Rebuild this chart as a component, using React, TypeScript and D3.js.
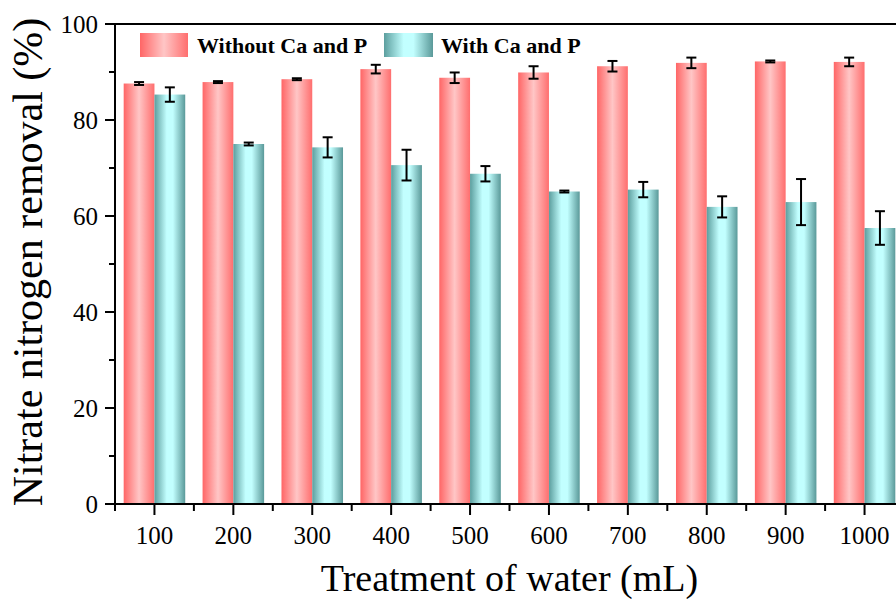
import React from 'react';
import * as d3 from 'd3';

const volumes = ['100', '200', '300', '400', '500', '600', '700', '800', '900', '1000'];
const withoutCaP = [87.6, 87.9, 88.5, 90.6, 88.8, 89.9, 91.2, 91.9, 92.2, 92.1];
const withoutCaPErr = [0.3, 0.2, 0.2, 0.9, 1.1, 1.3, 1.1, 1.1, 0.2, 0.9];
const withCaP = [85.3, 75.0, 74.3, 70.6, 68.8, 65.1, 65.5, 61.9, 62.9, 57.5];
const withCaPErr = [1.5, 0.3, 2.1, 3.2, 1.6, 0.2, 1.6, 2.2, 4.8, 3.5];
const yTicks = [0, 20, 40, 60, 80, 100];
const yMinorTicks = [10, 30, 50, 70, 90];

const W = 896;
const H = 599;
const left = 115;
const right = 904;
const top = 24;
const bottom = 504;
const font = '"Liberation Serif", "Times New Roman", serif';

export default function App() {
  const x = d3.scaleBand<string>().domain(volumes).range([left, right]).padding(0);
  const y = d3.scaleLinear().domain([0, 100]).range([bottom, top]);
  const step = x.step();
  const barW = step * 0.39;
  const center = (v: string) => (x(v) as number) + step / 2;

  const errBar = (cx: number, v: number, e: number, key: string) => (
    <g key={key} stroke="#000" strokeWidth={2}>
      <line x1={cx} x2={cx} y1={y(v + e)} y2={y(v - e)} />
      <line x1={cx - 5} x2={cx + 5} y1={y(v + e)} y2={y(v + e)} />
      <line x1={cx - 5} x2={cx + 5} y1={y(v - e)} y2={y(v - e)} />
    </g>
  );

  return (
    <div style={{ position: 'absolute', left: 0, top: 0 }}>
      <svg width={W} height={H} style={{ display: 'block', background: '#fff' }}>
        <defs>
          <linearGradient id="redGrad" x1="0" x2="1" y1="0" y2="0">
            <stop offset="0%" stopColor="#ff6666" />
            <stop offset="50%" stopColor="#ffc6c6" />
            <stop offset="100%" stopColor="#ff6e6e" />
          </linearGradient>
          <linearGradient id="tealGrad" x1="0" x2="1" y1="0" y2="0">
            <stop offset="0%" stopColor="#5c9e9e" />
            <stop offset="40%" stopColor="#c2ffff" />
            <stop offset="60%" stopColor="#c2ffff" />
            <stop offset="100%" stopColor="#5a9999" />
          </linearGradient>
        </defs>

        {volumes.map((v, i) => (
          <g key={v}>
            <rect x={center(v) - barW} width={barW} y={y(withoutCaP[i])} height={bottom - y(withoutCaP[i])} fill="url(#redGrad)" />
            <rect x={center(v)} width={barW} y={y(withCaP[i])} height={bottom - y(withCaP[i])} fill="url(#tealGrad)" />
          </g>
        ))}
        {volumes.map((v, i) => errBar(center(v) - barW / 2, withoutCaP[i], withoutCaPErr[i], 'r' + v))}
        {volumes.map((v, i) => errBar(center(v) + barW / 2, withCaP[i], withCaPErr[i], 't' + v))}

        {/* frame */}
        <rect x={left} y={top} width={right - left} height={bottom - top} fill="none" stroke="#000" strokeWidth={2} />

        {/* y axis */}
        {yTicks.map(t => (
          <g key={'y' + t}>
            <line x1={left - 10} x2={left} y1={y(t)} y2={y(t)} stroke="#000" strokeWidth={2} />
            <text x={left - 17} y={y(t)} dy="0.35em" textAnchor="end" fontFamily={font} fontSize={25}>{t}</text>
          </g>
        ))}
        {yMinorTicks.map(t => (
          <line key={'ym' + t} x1={left - 6} x2={left} y1={y(t)} y2={y(t)} stroke="#000" strokeWidth={2} />
        ))}

        {/* x axis */}
        {volumes.map(v => (
          <g key={'x' + v}>
            <line x1={center(v)} x2={center(v)} y1={bottom} y2={bottom + 11} stroke="#000" strokeWidth={2} />
            <line x1={(x(v) as number)} x2={(x(v) as number)} y1={bottom} y2={bottom + 7} stroke="#000" strokeWidth={2} />
            <text x={center(v)} y={bottom + 40} textAnchor="middle" fontFamily={font} fontSize={25}>{v}</text>
          </g>
        ))}

        <text x={(left + right) / 2} y={H - 8} textAnchor="middle" fontFamily={font} fontSize={38}>Treatment of water (mL)</text>
        <text transform={`translate(42,262) rotate(-90)`} textAnchor="middle" fontFamily={font} fontSize={42}>Nitrate nitrogen removal (%)</text>

        {/* legend */}
        <rect x={140} y={33} width={48} height={24} fill="url(#redGrad)" />
        <text x={197} y={53} fontFamily={font} fontWeight="bold" fontSize={22}>Without Ca and P</text>
        <rect x={384} y={33} width={49} height={24} fill="url(#tealGrad)" />
        <text x={441} y={53} fontFamily={font} fontWeight="bold" fontSize={22}>With Ca and P</text>
      </svg>
    </div>
  );
}
